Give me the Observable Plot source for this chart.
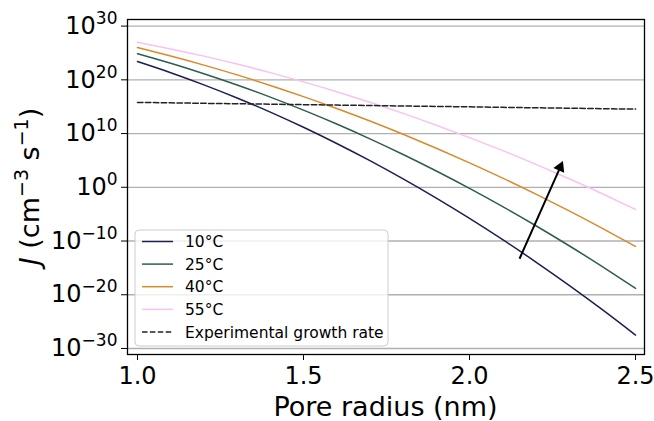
<!DOCTYPE html>
<html><head><meta charset="utf-8">
<script src="https://cdn.jsdelivr.net/npm/d3@7"></script>
<script src="https://cdn.jsdelivr.net/npm/@observablehq/plot@0.6"></script>
<style>
body{margin:0;background:#fff}
svg{font-family:"DejaVu Sans",sans-serif}
</style>
</head><body><div id="chart"></div>
<script>
// Pore radius (nm)
const radius = [1.0,1.1,1.2,1.3,1.4,1.5,1.6,1.7,1.8,1.9,2.0,2.1,2.2,2.3,2.4,2.5];
// log10 of J (cm^-3 s^-1)
const log10J_10C = [23.4,21.33,19.07,16.63,13.99,11.17,8.15,4.95,1.55,-2.03,-5.8,-9.76,-13.91,-18.25,-22.78,-27.5];
const log10J_25C = [24.86,23.08,21.14,19.04,16.78,14.36,11.77,9.02,6.11,3.04,-0.2,-3.6,-7.16,-10.88,-14.76,-18.8];
const log10J_40C = [26.0,24.43,22.74,20.92,18.96,16.88,14.67,12.34,9.87,7.27,4.55,1.7,-1.28,-4.39,-7.63,-11.0];
const log10J_55C = [27.0,25.76,24.41,22.93,21.34,19.62,17.79,15.83,13.76,11.56,9.25,6.82,4.26,1.59,-1.2,-4.13];
const log10J_exp = [15.8,15.72,15.63,15.55,15.47,15.38,15.3,15.22,15.13,15.05,14.97,14.88,14.8,14.72,14.63,14.55];
const seriesNames = ["10°C","25°C","40°C","55°C"];
const seriesColors = ["#1b1f52","#2d5e4c","#d88a2c","#f8c2f2"];
const expName = "Experimental growth rate";
const yTickExps = [30,20,10,0,-10,-20,-30];
const xTicks = [1.0,1.5,2.0,2.5];
// arrow annotation (x in nm, y as log10 J)
const arrowTail = {x:2.1506, e:-13.3};
const arrowHead = {x:2.273, e:3.72};

const seriesLogs = [log10J_10C,log10J_25C,log10J_40C,log10J_55C];
const rows = [];
seriesNames.forEach((name,i)=>radius.forEach((r,j)=>rows.push({r, J:10**seriesLogs[i][j], name})));
const expRows = radius.map((r,j)=>({r, J:10**log10J_exp[j]}));

const plot = Plot.plot({
  width:654, height:421,
  marginLeft:127, marginRight:10, marginTop:19, marginBottom:67,
  style:{fontFamily:"DejaVu Sans", fontSize:"24px", background:"white", color:"black"},
  x:{domain:[0.9699,2.527]},
  y:{type:"log", domain:[10**-31.12, 10**31.23]},
  color:{domain:seriesNames, range:seriesColors},
  marks:[
    Plot.ruleY(yTickExps.map(e=>10**e), {stroke:"#b0b0b0", strokeWidth:1.3}),
    Plot.line(rows,{x:"r", y:"J", z:"name", stroke:"name", strokeWidth:1.5, curve:"natural"}),
    Plot.line(expRows,{x:"r", y:"J", stroke:"#222", strokeWidth:1.5, strokeDasharray:"5.5,2.4"}),
    Plot.link([{x1:arrowTail.x, y1:10**arrowTail.e, x2:arrowHead.x, y2:10**arrowHead.e}],
      {x1:"x1", y1:"y1", x2:"x2", y2:"y2", stroke:"black", strokeWidth:2}),
    Plot.dot([{x:arrowHead.x, y:10**arrowHead.e}],{x:"x", y:"y", symbol:"triangle", r:4.4, fill:"black", stroke:"none", rotate:24}),
    Plot.axisX({ticks:xTicks, tickFormat:d=>d.toFixed(1), tickSize:6, tickPadding:6, label:null}),
    Plot.axisY({ticks:yTickExps.map(e=>10**e), tickFormat:d=>String(Math.round(Math.log10(d))), tickSize:6, tickPadding:4, label:null}),
    Plot.frame({stroke:"black", strokeWidth:1.3})
  ]
});
document.getElementById("chart").appendChild(plot);

const svg = d3.select(plot);
// superscript y tick labels
svg.selectAll('g[aria-label="y-axis tick label"] text').each(function(){
  const t = d3.select(this);
  const e = t.text().replace("-", "−");
  t.text("");
  t.append("tspan").text("10");
  t.append("tspan").attr("font-size","17px").attr("dy","-10").text(e);
});
// y label
const yl = svg.append("text")
  .attr("transform","translate(38.5,186.5) rotate(-90)")
  .attr("text-anchor","middle").attr("font-size","27px").attr("fill","black");
yl.append("tspan").attr("font-style","italic").text("J");
yl.append("tspan").text(" (cm");
yl.append("tspan").attr("font-size","19px").attr("dy","-11").text("−3");
yl.append("tspan").attr("dy","11").text(" s");
yl.append("tspan").attr("font-size","19px").attr("dy","-11").text("−1");
yl.append("tspan").attr("dy","11").text(")");
// x label
svg.append("text").attr("x",385.5).attr("y",416).attr("text-anchor","middle")
  .attr("font-size","27px").attr("fill","black").text("Pore radius (nm)");
// legend
const lg = svg.append("g").attr("text-anchor","start");
lg.append("rect").attr("x",135).attr("y",230).attr("width",253).attr("height",116).attr("rx",4)
  .attr("fill","white").attr("fill-opacity",0.8).attr("stroke","#cccccc").attr("stroke-width",1);
const legItems = seriesNames.map((n,i)=>({label:n, color:seriesColors[i], dash:null}))
  .concat([{label:expName, color:"#222", dash:"5.5,2.4"}]);
legItems.forEach((it,i)=>{
  const cy = 241.5 + i*22.6;
  lg.append("line").attr("x1",142).attr("x2",173).attr("y1",cy).attr("y2",cy)
    .attr("stroke",it.color).attr("stroke-width",1.5).attr("stroke-dasharray",it.dash);
  lg.append("text").attr("x",185).attr("y",cy+5.6).attr("text-anchor","start")
    .attr("font-size","15.5px").attr("fill","black").text(it.label);
});
</script>
</body></html>
